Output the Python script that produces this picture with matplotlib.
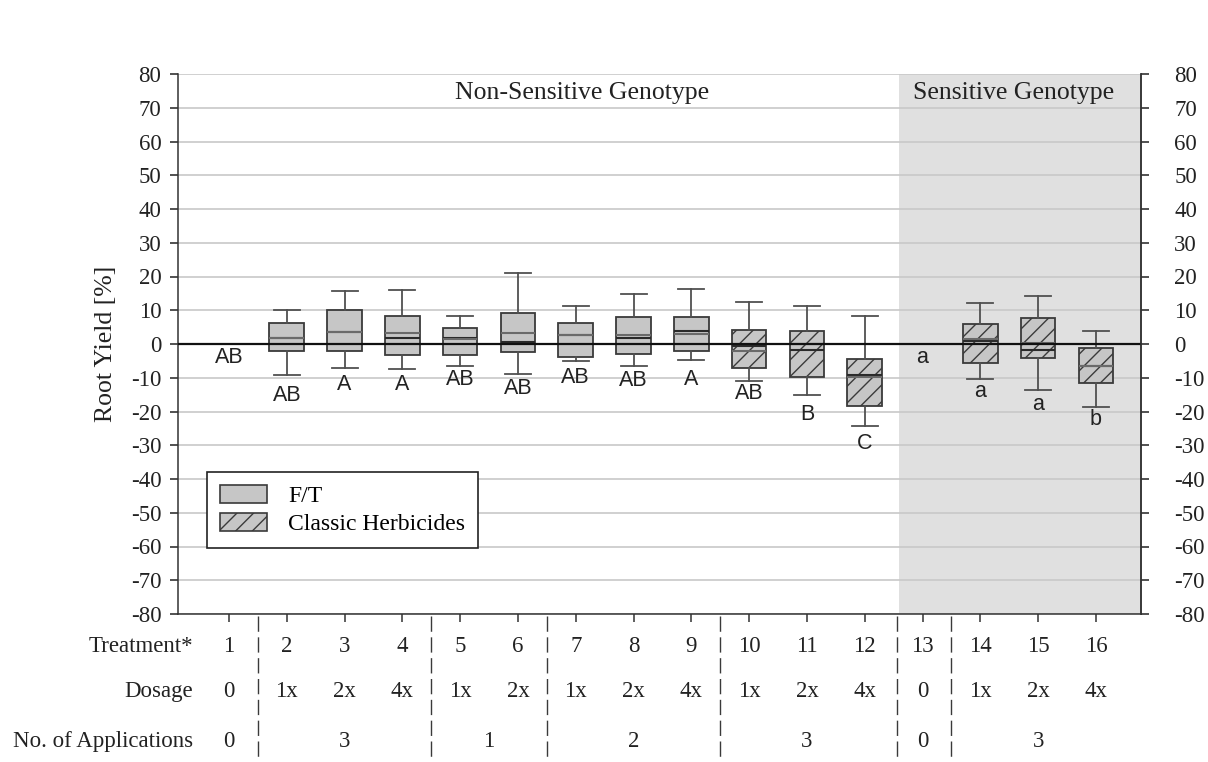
import matplotlib
matplotlib.use("Agg")
import matplotlib.pyplot as plt
from matplotlib.patches import Patch

plt.rcParams["font.family"] = ["Liberation Serif", "DejaVu Serif"]
plt.rcParams["hatch.linewidth"] = 1.0
plt.rcParams["axes.unicode_minus"] = False

# treatments (x positions) and table rows
treatments = list(range(1, 17))
treat_labels = [str(t) for t in treatments]
dosage = ["0", "1x", "2x", "4x", "1x", "2x", "1x", "2x", "4x", "1x", "2x", "4x", "0", "1x", "2x", "4x"]
app_pos = [1, 3, 5.5, 8, 11, 13, 15]
app_labels = ["0", "3", "1", "2", "3", "0", "3"]
separators = [1.5, 4.5, 6.5, 9.5, 12.56, 13.5]

# box statistics (treatments 1 and 13 are the untreated controls, no box)
box_treat = [2, 3, 4, 5, 6, 7, 8, 9, 10, 11, 12, 14, 15, 16]
whislo = [-9.2, -7.2, -7.5, -6.5, -8.9, -5.0, -6.4, -4.6, -11.0, -15.1, -24.4, -10.5, -13.7, -18.7]
q1 = [-2.1, -2.1, -3.4, -3.2, -2.4, -3.8, -3.1, -2.1, -7.0, -9.7, -18.3, -5.7, -4.0, -11.7]
med = [1.7, 3.6, 1.9, 1.9, 0.7, 2.7, 1.7, 4.0, -0.6, -1.8, -9.2, 1.0, -1.9, -6.4]
mean = [1.7, 3.6, 3.4, 1.5, 3.4, 2.7, 2.7, 3.1, -2.1, 0.0, -9.8, 1.4, 0.2, -6.4]
q3 = [6.2, 10.0, 8.3, 4.8, 9.3, 6.2, 7.9, 7.9, 4.2, 4.0, -4.4, 5.8, 7.7, -1.1]
whishi = [10.0, 15.7, 16.0, 8.4, 21.0, 11.3, 14.7, 16.2, 12.4, 11.3, 8.4, 12.2, 14.1, 4.0]
classic = [False] * 8 + [True] * 6

# significance letters
letters = ["AB", "AB", "A", "A", "AB", "AB", "AB", "AB", "A", "AB", "B", "C", "a", "a", "a", "b"]
letter_y = [-4.1, -15.4, -12.0, -12.0, -10.4, -13.3, -9.8, -10.7, -10.4, -14.8, -21.0, -29.6,
            -4.1, -14.2, -17.8, -22.5]

fig = plt.figure(figsize=(12.08, 7.62), dpi=100)
ax = fig.add_axes([178 / 1208, 1 - 614 / 762, 963 / 1208, 540 / 762])

xmin, xmax = 0.118, 16.78
ax.set_xlim(xmin, xmax)
ax.set_ylim(-80, 80)
ax.axvspan(12.6, xmax, color="#e0e0e0", zorder=0, lw=0)

stats = []
for i, t in enumerate(box_treat):
    stats.append(dict(whislo=whislo[i], q1=q1[i], med=med[i], mean=mean[i],
                      q3=q3[i], whishi=whishi[i], fliers=[]))
bp = ax.bxp(stats, positions=box_treat, widths=0.6, capwidths=0.45,
            patch_artist=True, showmeans=True, meanline=True,
            boxprops=dict(facecolor="#c6c6c6", edgecolor="#3a3a3a", lw=1.3),
            medianprops=dict(color="#2a2a2a", lw=1.5),
            meanprops=dict(color="#6a6a6a", lw=1.5, ls="-"),
            whiskerprops=dict(color="#505050", lw=1.3),
            capprops=dict(color="#505050", lw=1.3), manage_ticks=False)
for box, h in zip(bp["boxes"], classic):
    if h:
        box.set_hatch("//")
    box.set_zorder(2)

ax.axhline(0, color="#111111", lw=1.6, zorder=5)

for t, s, y in zip(treatments, letters, letter_y):
    ax.text(t, y, s, ha="center", va="center", fontsize=15.5,
            family=["Liberation Sans", "DejaVu Sans"], color="#222222", zorder=6)

ax.text(7.11, 74.5, "Non-Sensitive Genotype", ha="center", va="center", fontsize=18.5, color="#222222")
ax.text(14.57, 74.5, "Sensitive Genotype", ha="center", va="center", fontsize=18.5, color="#222222")

# axes styling
yt = list(range(-80, 81, 10))
ax.set_yticks(yt)
ax.yaxis.grid(True, color="#c8c8c8", lw=1.2)
ax.set_axisbelow(True)
ax.tick_params(axis="y", direction="out", length=6, width=1.1, labelsize=16.5,
               colors="#222222", pad=6)
ax.set_xticks(treatments)
ax.set_xticklabels([])
ax.tick_params(axis="x", direction="out", length=6, width=1.1, color="#333333")
ax.spines["top"].set_visible(False)
for sp in ("left", "right", "bottom"):
    ax.spines[sp].set_color("#333333")
    ax.spines[sp].set_linewidth(1.1)
ax.set_ylabel("Root Yield [%]", fontsize=18.5, labelpad=10, color="#222222")

ax2 = ax.twinx()
ax2.set_ylim(-80, 80)
ax2.set_yticks(yt)
ax2.tick_params(axis="y", direction="out", length=6, width=1.1, labelsize=16.5,
                colors="#222222", pad=18)
for sp in ("left", "top", "bottom"):
    ax2.spines[sp].set_visible(False)
ax2.spines["right"].set_color("#333333")
ax2.spines["right"].set_linewidth(1.1)

# table below the axis
tr = ax.get_xaxis_transform()
row_y = [-0.061, -0.144, -0.237]
for t, s, d in zip(treatments, treat_labels, dosage):
    ax.text(t, row_y[0], s, transform=tr, ha="center", va="center", fontsize=16.5, color="#222222")
    ax.text(t, row_y[1], d, transform=tr, ha="center", va="center", fontsize=16.5, color="#222222")
for p, s in zip(app_pos, app_labels):
    ax.text(p, row_y[2], s, transform=tr, ha="center", va="center", fontsize=16.5, color="#222222")
for lab, y in zip(["Treatment*", "Dosage", "No. of Applications"], row_y):
    ax.text(193 / 1208, 1 - (614 - y * 540) / 762, lab, transform=fig.transFigure,
            ha="right", va="center", fontsize=16.5, color="#222222")
for s in separators:
    ax.plot([s, s], [-0.004, -0.28], transform=tr, clip_on=False, color="#3a3a3a",
            lw=1.0, dashes=(11, 4))

handles = [Patch(facecolor="#c6c6c6", edgecolor="#3a3a3a", lw=1.2, label="F/T"),
           Patch(facecolor="#c6c6c6", edgecolor="#3a3a3a", lw=1.2, hatch="//", label="Classic Herbicides")]
leg = ax2.legend(handles=handles, loc="lower left", bbox_to_anchor=(0.030, 0.122),
                 borderaxespad=0, fontsize=17, frameon=True, fancybox=False,
                 handlelength=2.0, handleheight=0.75, handletextpad=0.9,
                 labelspacing=0.25, borderpad=0.55)
leg.get_frame().set_edgecolor("#222222")
leg.get_frame().set_linewidth(1.2)
leg.get_frame().set_alpha(1)
leg.set_zorder(7)

fig.savefig("out.png", dpi=100)
